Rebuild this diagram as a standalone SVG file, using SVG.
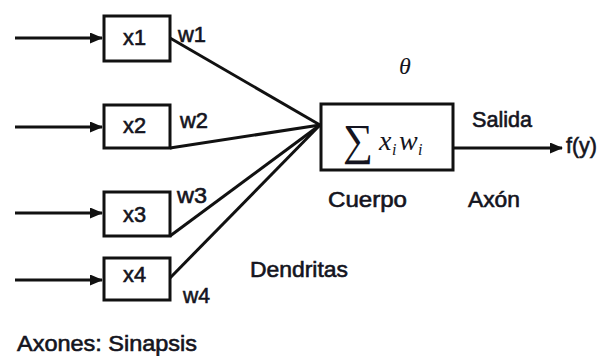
<svg xmlns="http://www.w3.org/2000/svg" width="600" height="356" viewBox="0 0 600 356">
<defs>
<style>
.t{font-family:"Liberation Sans",Arial,sans-serif;font-size:22px;fill:#141420;stroke:#141420;stroke-width:0.6}
.box{fill:#fff;stroke:#111;stroke-width:3}
.ln{stroke:#111;stroke-width:3;fill:none}
.m{font-family:"Liberation Serif","Times New Roman",serif;font-style:italic;fill:#141420}
</style>
<marker id="ah" markerWidth="13" markerHeight="11" refX="12" refY="5.5" orient="auto" markerUnits="userSpaceOnUse">
<path d="M0,0 L13,5.5 L0,11 Z" fill="#111"/>
</marker>
</defs>
<rect width="600" height="356" fill="#fff"/>
<g id="connectors">
<line class="ln" x1="15" y1="38" x2="102" y2="38" marker-end="url(#ah)"/>
<line class="ln" x1="15" y1="127" x2="102" y2="127" marker-end="url(#ah)"/>
<line class="ln" x1="15" y1="213" x2="102" y2="213" marker-end="url(#ah)"/>
<line class="ln" x1="15" y1="280" x2="102" y2="280" marker-end="url(#ah)"/>
<line class="ln" x1="170" y1="38" x2="320" y2="125"/>
<line class="ln" x1="170" y1="148" x2="320" y2="125"/>
<line class="ln" x1="170" y1="236" x2="320" y2="125"/>
<line class="ln" x1="170" y1="278" x2="320" y2="125"/>
<line class="ln" x1="453" y1="148" x2="562" y2="148" marker-end="url(#ah)"/>
</g>
<g id="x1"><rect class="box" x="104" y="16" width="66" height="45"/><text class="t" x="123" y="45" textLength="23" lengthAdjust="spacingAndGlyphs">x1</text><text class="t" x="178" y="42" textLength="28" lengthAdjust="spacingAndGlyphs">w1</text></g>
<g id="x2"><rect class="box" x="104" y="105" width="66" height="43"/><text class="t" x="123" y="133" textLength="23" lengthAdjust="spacingAndGlyphs">x2</text><text class="t" x="180" y="128" textLength="28" lengthAdjust="spacingAndGlyphs">w2</text></g>
<g id="x3"><rect class="box" x="104" y="192" width="66" height="44"/><text class="t" x="123" y="222" textLength="23" lengthAdjust="spacingAndGlyphs">x3</text><text class="t" x="177" y="203" textLength="30" lengthAdjust="spacingAndGlyphs">w3</text></g>
<g id="x4"><rect class="box" x="104" y="258" width="66" height="42"/><text class="t" x="123" y="282" textLength="23" lengthAdjust="spacingAndGlyphs">x4</text><text class="t" x="183" y="303" textLength="27" lengthAdjust="spacingAndGlyphs">w4</text></g>
<g id="cuerpo">
<rect class="box" x="321" y="104" width="132" height="66"/>
<text class="m" x="343" y="155" font-size="44" font-style="normal" textLength="30" lengthAdjust="spacingAndGlyphs">∑</text>
<text class="m" x="379" y="150" font-size="28">x</text>
<text class="m" x="392" y="155" font-size="16">i</text>
<text class="m" x="399" y="150" font-size="28">w</text>
<text class="m" x="418" y="155" font-size="16">i</text>
<text class="m" x="399" y="74" font-size="24">θ</text>
<text class="t" x="328" y="207" textLength="79" lengthAdjust="spacingAndGlyphs">Cuerpo</text>
</g>
<g id="salida">
<text class="t" x="472" y="127" textLength="60" lengthAdjust="spacingAndGlyphs">Salida</text>
<text class="t" x="566" y="153" textLength="31" lengthAdjust="spacingAndGlyphs">f(y)</text>
<text class="t" x="468" y="207" textLength="52" lengthAdjust="spacingAndGlyphs">Axón</text>
</g>
<g id="labels">
<text class="t" x="250" y="277" textLength="98" lengthAdjust="spacingAndGlyphs">Dendritas</text>
<text class="t" x="17" y="351" textLength="180" lengthAdjust="spacingAndGlyphs">Axones: Sinapsis</text>
</g>
</svg>
